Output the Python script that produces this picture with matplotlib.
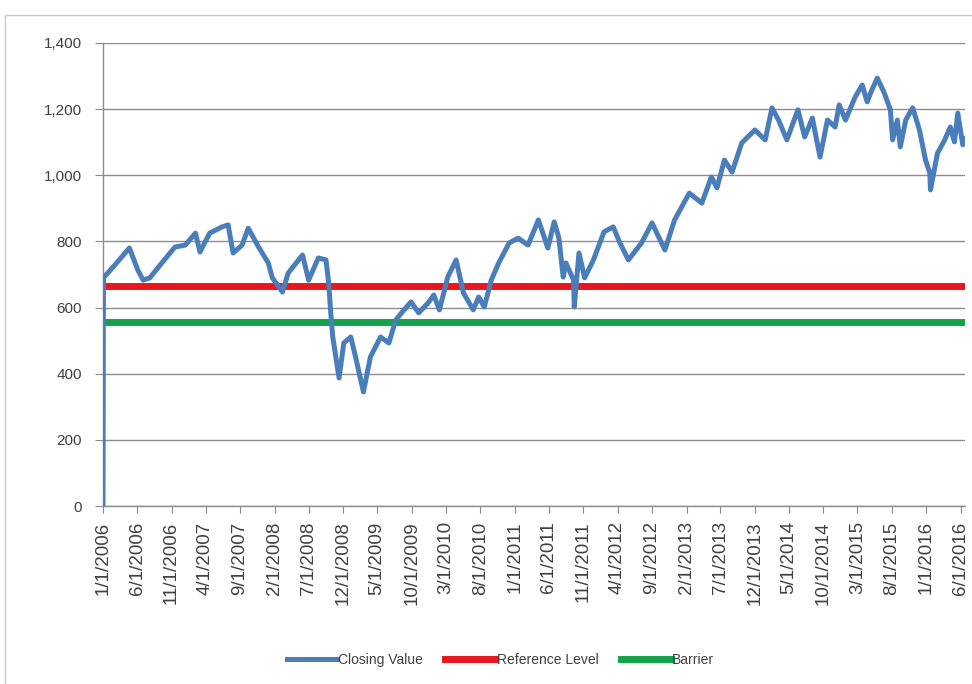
import pandas as pd
import matplotlib.pyplot as plt
from matplotlib.patches import Rectangle

# Closing values (date, value)
dates = [
    "2006-01-01", "2006-01-03", "2006-02-23", "2006-04-28", "2006-06-04", "2006-06-28",
    "2006-07-28", "2006-09-19", "2006-11-16", "2007-01-01", "2007-02-15", "2007-03-07",
    "2007-04-19", "2007-06-13", "2007-07-10", "2007-08-01", "2007-09-10", "2007-10-07",
    "2007-11-22", "2008-01-04", "2008-01-22", "2008-03-07", "2008-04-01", "2008-06-04",
    "2008-07-01", "2008-08-13", "2008-09-16", "2008-09-28", "2008-10-07", "2008-10-16",
    "2008-11-13", "2008-12-04", "2009-01-04", "2009-01-25", "2009-03-01", "2009-04-01",
    "2009-05-16", "2009-06-22", "2009-07-22", "2009-08-28", "2009-09-28", "2009-11-01",
    "2009-12-13", "2010-01-07", "2010-02-01", "2010-03-10", "2010-04-16", "2010-05-19",
    "2010-07-01", "2010-07-25", "2010-08-19", "2010-09-19", "2010-10-22", "2010-12-07",
    "2011-01-16", "2011-03-01", "2011-04-16", "2011-05-28", "2011-06-25", "2011-07-16",
    "2011-08-04", "2011-08-16", "2011-09-19", "2011-09-22", "2011-10-13", "2011-11-07",
    "2011-12-16", "2012-02-01", "2012-03-13", "2012-04-10", "2012-05-19", "2012-07-16",
    "2012-09-01", "2012-10-28", "2012-12-10", "2013-02-13", "2013-04-10", "2013-05-22",
    "2013-06-16", "2013-07-19", "2013-08-22", "2013-10-04", "2013-12-01", "2014-01-16",
    "2014-02-15", "2014-03-16", "2014-04-22", "2014-06-10", "2014-07-10", "2014-08-13",
    "2014-09-16", "2014-10-19", "2014-11-22", "2014-12-10", "2015-01-07", "2015-02-19",
    "2015-03-22", "2015-04-13", "2015-05-04", "2015-05-28", "2015-06-28", "2015-07-25",
    "2015-08-04", "2015-08-25", "2015-09-07", "2015-10-01", "2015-11-01", "2015-12-01",
    "2015-12-28", "2016-01-16", "2016-01-19", "2016-02-19", "2016-03-22", "2016-04-16",
    "2016-05-04", "2016-05-19", "2016-06-10", "2016-06-20",
]
closing = [
    0, 690, 729, 780, 714, 683,
    690, 735, 783, 789, 825, 768,
    825, 844, 850, 765, 789, 840,
    783, 735, 690, 647, 704, 759,
    683, 750, 744, 674, 584, 511,
    387, 493, 511, 451, 345, 451,
    511, 493, 562, 593, 617, 584,
    614, 638, 593, 692, 744, 644,
    593, 632, 602, 683, 735, 795,
    810, 789, 865, 780, 859, 810,
    692, 735, 683, 602, 765, 690,
    744, 829, 844, 798, 744, 795,
    856, 774, 865, 946, 916, 995,
    962, 1046, 1010, 1098, 1137, 1107,
    1204, 1167, 1107, 1198, 1116, 1173,
    1055, 1167, 1146, 1213, 1167, 1237,
    1273, 1222, 1258, 1294, 1249, 1198,
    1107, 1167, 1086, 1167, 1204, 1137,
    1046, 1007, 956, 1067, 1107, 1146,
    1101, 1188, 1092, 1110,
]
reference_level = 665
barrier = 555

y_ticks = [0, 200, 400, 600, 800, 1000, 1200, 1400]

dates = pd.to_datetime(dates)
tick_dates = pd.date_range("2006-01-01", "2016-06-01", freq="5MS")
tick_labels = [f"{d.month}/{d.day}/{d.year}" for d in tick_dates]

plt.rcParams["font.family"] = ["Liberation Sans", "DejaVu Sans"]
text_color = "#404040"
grid_color = "#8c8c8c"

fig = plt.figure(figsize=(9.72, 6.84), dpi=100)
ax = fig.add_axes([103 / 972, 1 - 506 / 684, 862 / 972, 463 / 684])

ax.plot(dates, closing, color="#4a7ebb", lw=3.6, label="Closing Value", zorder=4)
ax.plot([dates[0], dates[-1]], [reference_level, reference_level],
        color="#e8161e", lw=5, label="Reference Level", zorder=3)
ax.plot([dates[0], dates[-1]], [barrier, barrier],
        color="#12a34a", lw=5, label="Barrier", zorder=3)

ax.set_xlim(dates[0], dates[-1])
ax.set_ylim(0, 1400)
ax.set_yticks(y_ticks)
ax.set_yticklabels([f"{v:,}" for v in y_ticks])
ax.set_xticks(tick_dates)
ax.set_xticklabels(tick_labels, rotation=90)

ax.grid(axis="y", color=grid_color, lw=1)
ax.set_axisbelow(True)
for side in ["top", "right"]:
    ax.spines[side].set_visible(False)
for side in ["left", "bottom"]:
    ax.spines[side].set_color(grid_color)
    ax.spines[side].set_linewidth(1)

ax.tick_params(axis="y", labelsize=11, colors=grid_color, labelcolor=text_color,
               length=6, pad=9)
ax.tick_params(axis="x", labelsize=13.5, colors=grid_color, labelcolor=text_color,
               length=5, pad=6)

fig.legend(loc="center", bbox_to_anchor=(0.515, 0.035), ncol=3, frameon=False,
           fontsize=10, handlelength=3.6, handletextpad=0.1, columnspacing=1.6,
           labelcolor=text_color)

# light border around the chart area
fig.add_artist(Rectangle((5 / 972, -0.01), 1.0, 1 - 15 / 684 + 0.01,
                         transform=fig.transFigure, fill=False,
                         edgecolor="#c8c8c8", lw=1))

plt.savefig("out.png", dpi=100)
